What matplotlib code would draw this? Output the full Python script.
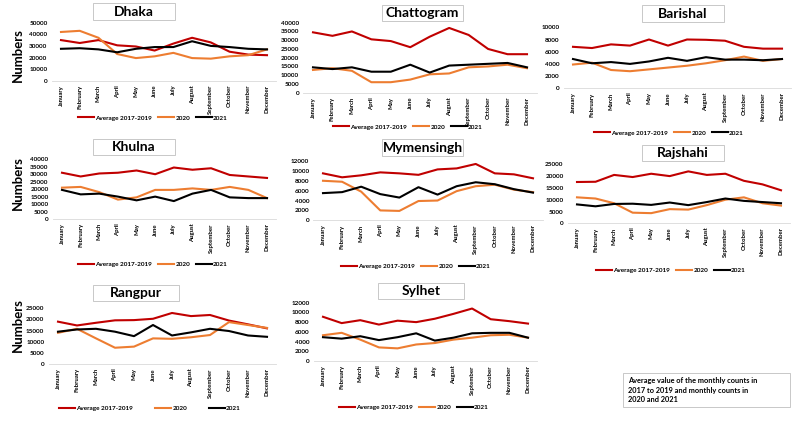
import matplotlib
matplotlib.use("Agg")
import matplotlib.pyplot as plt
from matplotlib.patches import Rectangle

plt.rcParams['font.family'] = ['Lato', 'DejaVu Sans']
plt.rcParams['font.weight'] = 'bold'

months = ['January', 'February', 'March', 'April', 'May', 'June', 'July',
          'August', 'September', 'October', 'November', 'December']
series_names = ['Average 2017-2019', '2020', '2021']
colors = ['#C00000', '#ED7D31', '#000000']

# values
dhaka_avg = [35000, 32500, 35000, 30500, 29500, 26000, 32000, 37000, 33000, 25000, 22500, 22000]
dhaka_2020 = [42000, 43000, 37000, 23000, 19500, 21000, 24000, 19500, 19000, 21000, 22000, 27000]
dhaka_2021 = [27500, 28000, 27000, 24500, 27500, 29000, 29000, 34000, 30000, 29000, 27500, 27000]

chattogram_avg = [34500, 32500, 35000, 30500, 29500, 26000, 32000, 37000, 33000, 25000, 22000, 22000]
chattogram_2020 = [13000, 14000, 12500, 6000, 6000, 7500, 10500, 11000, 14500, 15000, 16000, 14000]
chattogram_2021 = [14500, 13500, 14500, 12000, 12000, 16000, 11500, 15500, 16000, 16500, 17000, 14500]

barishal_avg = [6800, 6600, 7200, 7000, 8000, 7000, 8000, 7950, 7800, 6800, 6500, 6500]
barishal_2020 = [3900, 4200, 3000, 2800, 3100, 3400, 3700, 4100, 4600, 5200, 4500, 4800]
barishal_2021 = [4800, 4100, 4300, 4000, 4400, 5000, 4500, 5100, 4700, 4700, 4600, 4800]

khulna_avg = [31000, 28500, 30500, 31000, 32500, 30000, 34500, 33000, 34000, 29500, 28500, 27500]
khulna_2020 = [21000, 21500, 18000, 13000, 14500, 19500, 19500, 20500, 19500, 21500, 19500, 14000]
khulna_2021 = [19500, 16500, 17000, 15000, 12500, 15000, 12000, 17000, 19500, 14500, 14000, 14000]

mymensingh_avg = [9500, 8700, 9100, 9700, 9500, 9200, 10300, 10500, 11400, 9500, 9300, 8500]
mymensingh_2020 = [8000, 7800, 5800, 2000, 1900, 3900, 4000, 5900, 6900, 7200, 6200, 5700]
mymensingh_2021 = [5500, 5700, 6800, 5300, 4600, 6700, 5200, 6900, 7700, 7300, 6300, 5600]

rajshahi_avg = [17500, 17600, 20500, 19600, 21000, 20000, 22000, 20500, 21000, 18000, 16500, 14000]
rajshahi_2020 = [11000, 10500, 8500, 4500, 4300, 6000, 5800, 7700, 10000, 11000, 8500, 7500]
rajshahi_2021 = [8000, 7200, 8200, 8300, 7800, 8800, 7700, 9000, 10500, 9500, 9000, 8500]

rangpur_avg = [19000, 17300, 18500, 19600, 19700, 20300, 22900, 21500, 22000, 19500, 17800, 16000]
rangpur_2020 = [14000, 15800, 11500, 7300, 7800, 11500, 11300, 12000, 13000, 18800, 17500, 16200]
rangpur_2021 = [14500, 15500, 15800, 14500, 12500, 17500, 12800, 14200, 15800, 14800, 12800, 12200]

sylhet_avg = [9100, 7800, 8400, 7500, 8300, 8000, 8700, 9700, 10800, 8600, 8200, 7700]
sylhet_2020 = [5300, 5800, 4400, 2800, 2600, 3400, 3700, 4400, 4800, 5300, 5400, 4800]
sylhet_2021 = [4900, 4600, 5100, 4300, 4900, 5700, 4200, 4800, 5700, 5800, 5800, 4800]

regions = ['Dhaka', 'Chattogram', 'Barishal', 'Khulna', 'Mymensingh',
           'Rajshahi', 'Rangpur', 'Sylhet']
region_data = [
    (dhaka_avg, dhaka_2020, dhaka_2021),
    (chattogram_avg, chattogram_2020, chattogram_2021),
    (barishal_avg, barishal_2020, barishal_2021),
    (khulna_avg, khulna_2020, khulna_2021),
    (mymensingh_avg, mymensingh_2020, mymensingh_2021),
    (rajshahi_avg, rajshahi_2020, rajshahi_2021),
    (rangpur_avg, rangpur_2020, rangpur_2021),
    (sylhet_avg, sylhet_2020, sylhet_2021),
]
y_max = [50000, 40000, 10000, 40000, 12000, 25000, 25000, 12000]
y_step = [10000, 5000, 2000, 5000, 2000, 5000, 5000, 2000]

W, H = 800, 424

# layout in pixels: x of Jan, x of Dec, y of top tick, y of zero
frames = [
    (61, 267, 22.7, 80.7), (313, 527, 22.7, 92.7), (573, 782, 27.3, 88.3),
    (62, 267, 159.3, 219), (323, 533, 161, 220.3), (577, 781, 164.3, 223.3),
    (58, 267, 308.3, 364), (323, 528, 302.7, 361),
]
title_boxes = [
    (93, 3, 82, 17), (382, 5, 81, 16), (642, 5, 82, 17),
    (93, 139, 82, 16), (382, 139, 81, 17), (642, 145, 82, 16),
    (93, 285, 86, 16), (378, 283, 86, 16),
]
legend_pos = [(153, 118), (408, 127), (669, 133), (153, 264),
              (416, 266), (671, 270), (150, 408), (414, 407)]


def fx(px):
    return px / W


def fy(py):
    return 1 - py / H


fig = plt.figure(figsize=(8, 4.24), dpi=100)

for i, name in enumerate(regions):
    x0, x1, yt, yz = frames[i]
    slot = (x1 - x0) / 11
    left = x0 - slot / 2
    ax = fig.add_axes([fx(left), fy(yz), fx(slot * 12), (yz - yt) / H])
    for vals, c, lab in zip(region_data[i], colors, series_names):
        ax.plot(range(12), vals, color=c, lw=1.5, label=lab)
    ax.set_xlim(-0.5, 11.5)
    ax.set_ylim(0, y_max[i])
    ax.set_yticks(range(0, y_max[i] + 1, y_step[i]))
    ax.set_xticks(range(12))
    ax.set_xticklabels(months, rotation=90, fontsize=4.3, fontweight='bold')
    ax.tick_params(axis='y', labelsize=4.6, length=0, pad=3)
    ax.tick_params(axis='x', length=0, pad=3)
    for s in ['top', 'right', 'left']:
        ax.spines[s].set_visible(False)
    ax.spines['bottom'].set_color('#D9D9D9')
    ax.spines['bottom'].set_linewidth(0.6)
    ax.patch.set_alpha(0)

    bx, by, bw, bh = title_boxes[i]
    fig.patches.append(Rectangle((fx(bx), fy(by + bh)), bw / W, bh / H,
                                 transform=fig.transFigure, facecolor='white',
                                 edgecolor='#BFBFBF', lw=0.6))
    fig.text(fx(bx + bw / 2), fy(by + bh / 2), name, ha='center', va='center',
             fontsize=10, fontweight='bold')

    lx, ly = legend_pos[i]
    handles, labels = ax.get_legend_handles_labels()
    fig.legend(handles, labels, loc='center', bbox_to_anchor=(fx(lx), fy(ly)),
               ncol=3, frameon=False, fontsize=4.6, handlelength=2.5,
               handletextpad=0.2, columnspacing=3.4 if name == 'Rangpur' else 0.9,
               borderpad=0)

for yc in [55, 183, 325]:
    fig.text(fx(18), fy(yc), 'Numbers', rotation=90, ha='center', va='center',
             fontsize=9.5, fontweight='bold')

fig.patches.append(Rectangle((fx(623), fy(407)), 167 / W, 34 / H,
                             transform=fig.transFigure, facecolor='white',
                             edgecolor='#BFBFBF', lw=0.6))
fig.text(fx(628), fy(390), 'Average value of the monthly counts in\n'
         '2017 to 2019 and monthly counts in\n2020 and 2021',
         ha='left', va='center', fontsize=5.3, fontweight='bold', linespacing=1.4)

fig.savefig('out.png', dpi=100, facecolor='white')
